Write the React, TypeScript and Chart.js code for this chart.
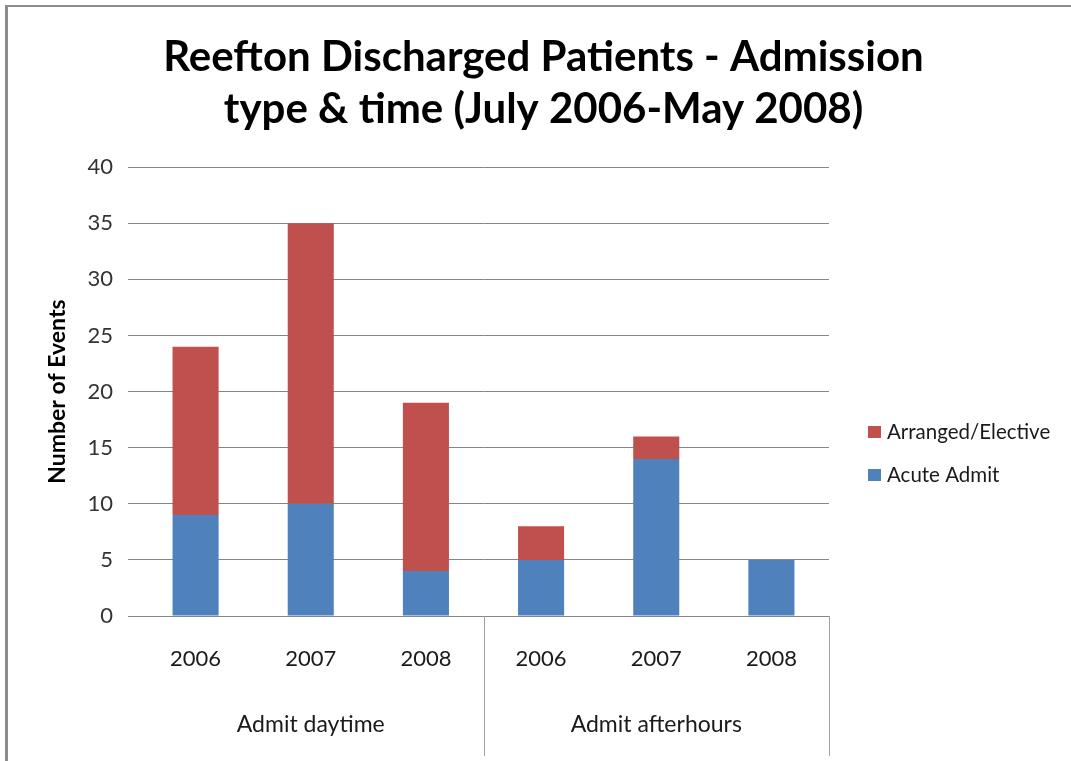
import React, { useEffect, useRef } from "react";
import { Chart, registerables } from "chart.js";

Chart.register(...registerables);

const years = ["2006", "2007", "2008", "2006", "2007", "2008"];
const groups = ["Admit daytime", "Admit afterhours"];
const acuteAdmit = [9, 10, 4, 5, 14, 5];
const arrangedElective = [15, 25, 15, 3, 2, 0];
const titleLines = ["Reefton Discharged Patients - Admission", "type & time (July 2006-May 2008)"];
const yTitle = "Number of Events";

const BLUE = "#4F81BD";
const RED = "#C0504D";
const GRID = "#868686";
const FONT = "Lato, 'Noto Sans', sans-serif";

const extras = {
  id: "extras",
  afterDraw(chart: any) {
    const ctx = chart.ctx;
    const area = chart.chartArea;
    const x = chart.scales.x;
    ctx.save();
    // outer border
    ctx.fillStyle = "#8c8c8c";
    ctx.fillRect(5, 5, 3, 756);
    ctx.fillRect(5, 5, 1066, 2);
    // group dividers
    ctx.strokeStyle = "#a0a0a0";
    ctx.lineWidth = 1;
    const per = 3;
    const divs: number[] = [];
    for (let g = 1; g < groups.length; g++) {
      divs.push((x.getPixelForValue(g * per - 1) + x.getPixelForValue(g * per)) / 2);
    }
    divs.push(area.right);
    divs.forEach((d) => {
      const px = Math.round(d) + 0.5;
      ctx.beginPath();
      ctx.moveTo(px, area.bottom);
      ctx.lineTo(px, area.bottom + 140);
      ctx.stroke();
    });
    // group labels
    ctx.fillStyle = "#1a1a1a";
    ctx.font = `23px ${FONT}`;
    ctx.textAlign = "center";
    ctx.textBaseline = "middle";
    groups.forEach((g, i) => {
      const cx = (x.getPixelForValue(i * per) + x.getPixelForValue(i * per + per - 1)) / 2;
      ctx.fillText(g, cx, area.bottom + 109);
    });
    // legend
    const items = [
      { label: "Arranged/Elective", color: RED },
      { label: "Acute Admit", color: BLUE },
    ];
    ctx.textAlign = "left";
    ctx.font = `20.5px ${FONT}`;
    items.forEach((it, i) => {
      const cy = 432 + i * 43;
      ctx.fillStyle = it.color;
      ctx.fillRect(area.right + 39, cy - 6, 13, 12);
      ctx.fillStyle = "#1a1a1a";
      ctx.fillText(it.label, area.right + 58, cy);
    });
    ctx.restore();
  },
};

export default function App() {
  const ref = useRef<HTMLCanvasElement>(null);
  useEffect(() => {
    if (!ref.current) return;
    const chart = new Chart(ref.current, {
      type: "bar",
      data: {
        labels: years,
        datasets: [
          { label: "Acute Admit", data: acuteAdmit, backgroundColor: BLUE, barPercentage: 0.4, categoryPercentage: 1 },
          { label: "Arranged/Elective", data: arrangedElective, backgroundColor: RED, barPercentage: 0.4, categoryPercentage: 1 },
        ],
      },
      options: {
        animation: false,
        responsive: false,
        maintainAspectRatio: false,
        layout: { padding: { left: 16, right: 0, top: 0, bottom: 0 } },
        plugins: {
          legend: { display: false },
          tooltip: { enabled: false },
          title: {
            display: true,
            text: titleLines,
            color: "#000",
            font: { family: FONT, size: 42, weight: "bold", lineHeight: 1.24 },
            padding: { top: 31, bottom: 32 },
          },
        },
        scales: {
          x: {
            stacked: true,
            grid: { display: false, drawTicks: false },
            border: { display: true, color: GRID },
            ticks: { color: "#1a1a1a", font: { family: FONT, size: 22 }, padding: 30, maxRotation: 0 },
            afterFit: (s: any) => { s.height = 145; },
          },
          y: {
            stacked: true,
            min: 0,
            max: 40,
            ticks: { stepSize: 5, color: "#333", font: { family: FONT, size: 22 }, padding: 15 },
            grid: { color: GRID, tickLength: 10 },
            border: { display: false },
            title: { display: true, text: yTitle, color: "#000", font: { family: FONT, size: 23, weight: "bold" }, padding: { top: 28, bottom: 0 } },
            afterFit: (s: any) => { s.width = 122; },
          },
          yRight: {
            type: "linear",
            axis: "y",
            position: "right",
            display: true,
            ticks: { display: false },
            grid: { display: false, drawTicks: false },
            border: { display: false },
            afterFit: (s: any) => { s.width = 242; },
          },
        },
      },
      plugins: [extras],
    });
    return () => chart.destroy();
  }, []);
  return (
    <div style={{ position: "fixed", left: 0, top: 0, width: 1071, height: 761, background: "#fff" }}>
      <canvas ref={ref} width={1071} height={761} style={{ display: "block" }} />
    </div>
  );
}
